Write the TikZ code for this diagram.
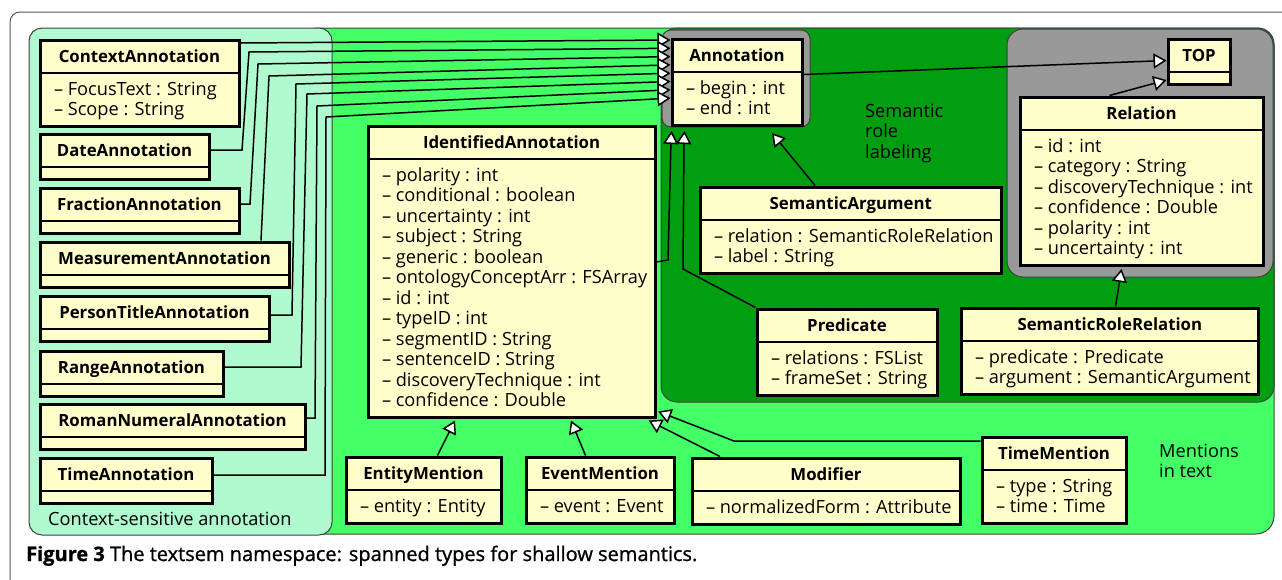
\documentclass[tikz,border=0pt]{standalone}
\usepackage{fontspec}
\setmainfont{Open Sans}
\newfontfamily\capfont{Open Sans}[FakeBold=1]
\usetikzlibrary{shapes.multipart,arrows.meta,calc}

\definecolor{mint}{HTML}{B0FAD0}
\definecolor{brightgreen}{HTML}{44FF66}
\definecolor{darkgreen}{HTML}{009E10}
\definecolor{pkggray}{HTML}{999999}
\definecolor{classfill}{HTML}{FFFFCC}
\definecolor{framegray}{HTML}{555555}

\newcommand{\attrfont}{\fontsize{18.2}{20.5}\selectfont\lineskiplimit=-20pt}
\newcommand{\rowstrut}{\rule[-4.6pt]{0pt}{20.5pt}}
\newcommand{\clsname}[1]{\rowstrut{\fontsize{16.8}{20.5}\selectfont\bfseries #1}}
\newcommand{\attr}[1]{\hspace*{6pt}\rowstrut\textendash{} #1}
\newcommand{\noattr}{\rule{0.1pt}{0pt}}

\begin{document}
\begin{tikzpicture}[
    x=1pt, y=-1pt,
    every node/.style={font=\attrfont},
    cls/.style={rectangle split, rectangle split parts=2,
        rectangle split part align={center,left},
        rectangle split draw splits=false,
        draw, line width=3pt, fill=classfill, align=left,
        inner xsep=8pt, inner ysep=4.75pt, anchor=north west},
    split/.style={line width=1.5pt},
    region/.style={draw=black!75, line width=1pt, rounded corners=18pt},
    tag/.style={align=left, inner sep=0pt, anchor=north west},
    gen/.style={line width=1.5pt, -{Triangle[length=13pt, width=15pt, fill=white]}}
    ]

\useasboundingbox (0,0) rectangle (1282,579);
\clip (0,0) rectangle (1282,579);

% Frame and packages
\draw[framegray, line width=1pt, rounded corners=10pt] (10,12) rectangle (1320,640);
\filldraw[fill=brightgreen, region] (300,28) rectangle (1274,534);
\filldraw[fill=mint, region, rounded corners=13pt] (29,28) rectangle (332,535);
\filldraw[fill=darkgreen, region, rounded corners=16pt] (661,28) rectangle (1274,402);
\filldraw[fill=pkggray, region, rounded corners=9pt] (662,30) rectangle (810,127);
\filldraw[fill=pkggray, region, rounded corners=16pt] (1007,29) rectangle (1273,277);

\node[tag, anchor=base west] (ctx label) at (48,525) {Context-sensitive annotation};
\node[tag] (srl label) at (865,102.6) {\strut Semantic\\\strut role\\\strut labeling};
\node[tag] (mention label) at (1159,442.6) {\strut Mentions\\\strut in text};

% Context-sensitive annotation
\node[cls, minimum width=199pt] (ctx) at (38.5,38.5)
    {\clsname{ContextAnnotation}\nodepart{two}\attr{FocusText : String}\\\attr{Scope : String}};
\node[cls, minimum width=169pt] (date) at (38.5,132.5) {\clsname{DateAnnotation}\nodepart{two}\noattr};
\node[cls, minimum width=199pt] (frac) at (38.5,186.5) {\clsname{FractionAnnotation}\nodepart{two}\noattr};
\node[cls, minimum width=249pt] (meas) at (38.5,240.5) {\clsname{MeasurementAnnotation}\nodepart{two}\noattr};
\node[cls, minimum width=229pt] (person) at (38.5,294.5) {\clsname{PersonTitleAnnotation}\nodepart{two}\noattr};
\node[cls, minimum width=183pt] (range) at (38.5,349.5) {\clsname{RangeAnnotation}\nodepart{two}\noattr};
\node[cls, minimum width=265pt] (roman) at (38.5,402.5) {\clsname{RomanNumeralAnnotation}\nodepart{two}\noattr};
\node[cls, minimum width=172pt] (timeann) at (38.5,456.5) {\clsname{TimeAnnotation}\nodepart{two}\noattr};

% Core types
\node[cls, minimum width=130pt] (ann) at (670.5,37.5)
    {\clsname{Annotation}\nodepart{two}\attr{begin : int}\\\attr{end : int}};
\node[cls, minimum width=62pt] (top) at (1166.5,37.5) {\clsname{TOP}\nodepart{two}\noattr};
\node[cls, minimum width=243pt] (rel) at (1018.5,95.5)
    {\clsname{Relation}\nodepart{two}\attr{id : int}\\\attr{category : String}\\
     \attr{discoveryTechnique : int}\\\attr{confidence : Double}\\
     \attr{polarity : int}\\\attr{uncertainty : int}};

% Semantic role labeling
\node[cls, minimum width=299pt] (semarg) at (698.5,185.5)
    {\clsname{SemanticArgument}\nodepart{two}\attr{relation : SemanticRoleRelation}\\\attr{label : String}};
\node[cls, minimum width=180pt] (pred) at (755.5,307.5)
    {\clsname{Predicate}\nodepart{two}\attr{relations : FSList}\\\attr{frameSet : String}};
\node[cls, minimum width=294pt] (srr) at (959.5,306.5)
    {\clsname{SemanticRoleRelation}\nodepart{two}\attr{predicate : Predicate}\\\attr{argument : SemanticArgument}};

% Mentions in text
\node[cls, minimum width=285pt] (ident) at (366.5,124.5)
    {\clsname{IdentifiedAnnotation}\nodepart{two}\attr{polarity : int}\\\attr{conditional : boolean}\\
     \attr{uncertainty : int}\\\attr{subject : String}\\\attr{generic : boolean}\\
     \attr{ontologyConceptArr : FSArray}\\\attr{id : int}\\\attr{typeID : int}\\
     \attr{segmentID : String}\\\attr{sentenceID : String}\\
     \attr{discoveryTechnique : int}\\\attr{confidence : Double}};
\node[cls, minimum width=155pt] (entity) at (344.5,455.5)
    {\clsname{EntityMention}\nodepart{two}\attr{entity : Entity}};
\node[cls, minimum width=148pt] (event) at (524.5,455.5)
    {\clsname{EventMention}\nodepart{two}\attr{event : Event}};
\node[cls, minimum width=268pt] (modifier) at (690.5,456.5)
    {\clsname{Modifier}\nodepart{two}\attr{normalizedForm : Attribute}};
\node[cls, minimum width=144pt] (timemen) at (980.5,435.5)
    {\clsname{TimeMention}\nodepart{two}\attr{type : String}\\\attr{time : Time}};

% Compartment lines
\foreach \c in {ctx,date,frac,meas,person,range,roman,timeann,ann,top,rel,
                semarg,pred,srr,ident,entity,event,modifier,timemen}
    \draw[split] (\c.text split west) -- (\c.text split east);

% Generalizations to Annotation
\draw[gen] ($(ctx.north east)+(0,4.5)$) -- ($(ann.north west)+(0,2.5)$);
\draw[gen] ($(date.north east)+(0,17.5)$) -- (242,150) -- (249,52) -- ($(ann.north west)+(0,10.8)$);
\draw[gen] ($(frac.north east)+(0,17.5)$) -- (250,204) -- (258,64) -- ($(ann.north west)+(0,19.1)$);
\draw[gen] ($(meas.north west)+(222.5,0)$) -- (269,76) -- ($(ann.north west)+(0,27.4)$);
\draw[gen] ($(person.north east)+(0,20.5)$) -- (292,315) -- (296,84) -- ($(ann.north west)+(0,35.7)$);
\draw[gen] ($(range.north east)+(0,17.5)$) -- (301,367) -- (307,94) -- ($(ann.north west)+(0,44)$);
\draw[gen] ($(roman.north east)+(0,15.5)$) -- (315,418) -- (317,106) -- ($(ann.north west)+(0,52.3)$);
\draw[gen] ($(timeann.north east)+(0,18.5)$) -- (325,475) -- (326,117) -- ($(ann.north west)+(0,60.6)$);
\draw[gen] ($(ident.north east)+(0,137.5)$) -- (668,260) -- (671,140) -- ($(ann.south west)+(1,4)$);
\draw[gen] (pred.north west) -- (683,269) -- (684,140) -- ($(ann.south west)+(14,4)$);
\draw[gen] ($(semarg.north west)+(116.5,0)$) -- ($(ann.south west)+(101.5,6)$);

% Generalizations to TOP and Relation
\draw[gen] ($(ann.north east)+(0,37)$) -- ($(top.north west)+(0,23)$);
\draw[gen] ($(rel.north west)+(91,0)$) -- ($(top.south west)+(0,-6)$);
\draw[gen] ($(srr.north west)+(156,0)$) -- ($(rel.south west)+(103,2)$);

% Generalizations to IdentifiedAnnotation
\draw[gen] ($(entity.north west)+(93,0)$) -- ($(ident.south west)+(88.5,1.5)$);
\draw[gen] ($(event.north west)+(61,0)$) -- ($(ident.south west)+(204.5,1.5)$);
\draw[gen] ($(modifier.north west)+(29.5,0)$) -- ($(ident.south east)+(-8,1.5)$);
\draw[gen] ($(timemen.north west)+(0,5.5)$) -- (734,441) -- ($(ident.south east)+(1.5,-7.5)$);

\node[anchor=base west, inner sep=0pt, font=\capfont\fontsize{20}{22}\selectfont] (caption) at (26,561)
    {\textbf{Figure 3} The textsem namespace: spanned types for shallow semantics.};

\end{tikzpicture}
\end{document}
